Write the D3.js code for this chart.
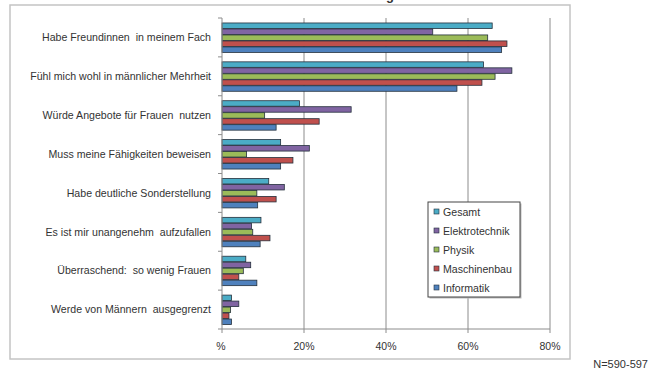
<!DOCTYPE html>
<html>
<head>
<meta charset="utf-8">
<script src="https://cdn.jsdelivr.net/npm/d3@7"></script>
<style>
  body { margin: 0; background: #fff; }
  svg { display: block; font-family: Arial, "Liberation Sans", sans-serif; }
</style>
</head>
<body>
<div id="chart"></div>
<script>
// categories, top to bottom
var categories = [
    'Habe Freundinnen  in meinem Fach',
    'Fühl mich wohl in männlicher Mehrheit',
    'Würde Angebote für Frauen  nutzen',
    'Muss meine Fähigkeiten beweisen',
    'Habe deutliche Sonderstellung',
    'Es ist mir unangenehm  aufzufallen',
    'Überraschend:  so wenig Frauen',
    'Werde von Männern  ausgegrenzt'
];
var seriesNames = ['Gesamt', 'Elektrotechnik', 'Physik', 'Maschinenbau', 'Informatik'];
var seriesColors = ['#4bacc6', '#8064a2', '#9bbb59', '#c0504d', '#4f81bd'];

// percent values per series, same order as categories
var gesamt         = [65.9, 63.8, 18.9, 14.3, 11.4, 9.5, 5.8, 2.3];
var elektrotechnik = [51.4, 70.7, 31.5, 21.3, 15.2, 7.2, 7.0, 4.1];
var physik         = [64.8, 66.6, 10.4, 6.0, 8.5, 7.5, 5.2, 2.1];
var maschinenbau   = [69.5, 63.4, 23.7, 17.3, 13.2, 11.7, 4.1, 1.7];
var informatik     = [68.2, 57.3, 13.2, 14.3, 8.7, 9.3, 8.5, 2.3];
var xTicks = [0, 20, 40, 60, 80];
var xTickLabels = ['%', '20%', '40%', '60%', '80%'];

var values = [gesamt, elektrotechnik, physik, maschinenbau, informatik];

var width = 650, height = 374;
var plot = {left: 222, right: 550, top: 18, bottom: 329};

var svg = d3.select('#chart').append('svg')
    .attr('width', width)
    .attr('height', height);

// chart frame
svg.append('rect')
    .attr('x', 10).attr('y', 5)
    .attr('width', 560).attr('height', 354)
    .attr('fill', '#fff')
    .attr('stroke', '#c4c4c4')
    .attr('stroke-width', 1.5);

// title, cut off at the top edge like in the source image
svg.append('text')
    .attr('x', 394).attr('y', 0)
    .attr('text-anchor', 'end')
    .style('font-size', '13px')
    .style('font-weight', 'bold')
    .attr('fill', '#333')
    .text('Erfahrung');

var x = d3.scaleLinear().domain([0, 80]).range([plot.left, plot.right]);
var y = d3.scaleBand().domain(categories).range([plot.top, plot.bottom])
    .paddingInner(0.23).paddingOuter(0.115);
var ySub = d3.scaleBand().domain(seriesNames).range([0, y.bandwidth()]);

// gridlines
svg.append('g')
    .selectAll('line')
    .data(xTicks.slice(1))
    .enter()
        .append('line')
        .attr('x1', function(d){ return x(d); })
        .attr('x2', function(d){ return x(d); })
        .attr('y1', plot.top)
        .attr('y2', plot.bottom)
        .attr('stroke', '#8c8c8c')
        .attr('stroke-width', 1);

// bars
var groups = svg.append('g')
    .selectAll('g')
    .data(categories)
    .enter()
        .append('g')
        .attr('transform', function(d){ return 'translate(0,' + y(d) + ')'; });

groups.selectAll('rect')
    .data(function(d, i){
        return seriesNames.map(function(s, j){ return {s: s, v: values[j][i], c: seriesColors[j]}; });
    })
    .enter()
        .append('rect')
        .attr('x', x(0))
        .attr('y', function(d){ return ySub(d.s) + 0.5; })
        .attr('width', function(d){ return x(d.v) - x(0); })
        .attr('height', ySub.bandwidth() - 0.5)
        .attr('fill', function(d){ return d.c; })
        .attr('stroke', '#24303c')
        .attr('stroke-width', 0.8);

// y axis line and ticks
svg.append('line')
    .attr('x1', plot.left).attr('x2', plot.left)
    .attr('y1', plot.top).attr('y2', plot.bottom)
    .attr('stroke', '#8c8c8c');
var yBounds = categories.map(function(d){ return y(d) - y.step() * y.paddingInner() / 2; });
yBounds.push(plot.bottom);
svg.append('g')
    .selectAll('line')
    .data(yBounds)
    .enter()
        .append('line')
        .attr('x1', plot.left - 4).attr('x2', plot.left)
        .attr('y1', function(d){ return d; })
        .attr('y2', function(d){ return d; })
        .attr('stroke', '#8c8c8c');

// x axis line and ticks
svg.append('line')
    .attr('x1', plot.left).attr('x2', plot.right)
    .attr('y1', plot.bottom).attr('y2', plot.bottom)
    .attr('stroke', '#8c8c8c');
svg.append('g')
    .selectAll('line')
    .data(xTicks)
    .enter()
        .append('line')
        .attr('x1', function(d){ return x(d); })
        .attr('x2', function(d){ return x(d); })
        .attr('y1', plot.bottom).attr('y2', plot.bottom + 4)
        .attr('stroke', '#8c8c8c');

// category labels
svg.append('g')
    .selectAll('text')
    .data(categories)
    .enter()
        .append('text')
        .attr('x', 211)
        .attr('y', function(d){ return y(d) + y.bandwidth() / 2; })
        .attr('dy', '0.35em')
        .attr('text-anchor', 'end')
        .attr('fill', '#333')
        .style('font-size', '10.6px')
        .style('white-space', 'pre')
        .text(function(d){ return d; });

// x tick labels
svg.append('g')
    .selectAll('text')
    .data(xTicks)
    .enter()
        .append('text')
        .attr('x', function(d, i){ return i == 0 ? x(d) - 1 : x(d); })
        .attr('y', 350)
        .attr('text-anchor', 'middle')
        .attr('fill', '#333')
        .style('font-size', '10.5px')
        .text(function(d, i){ return xTickLabels[i]; });

// legend
var legend = svg.append('g').attr('transform', 'translate(428,202)');
legend.append('rect')
    .attr('x', 1.5).attr('y', 1.5)
    .attr('width', 92).attr('height', 95)
    .attr('fill', '#bbb');
legend.append('rect')
    .attr('width', 92).attr('height', 95)
    .attr('fill', '#fff')
    .attr('stroke', '#444')
    .attr('stroke-width', 1);
var items = legend.selectAll('g')
    .data(seriesNames)
    .enter()
        .append('g')
        .attr('transform', function(d, i){ return 'translate(0,' + (10 + i * 19) + ')'; });
items.append('rect')
    .attr('x', 6).attr('y', -3)
    .attr('width', 5).attr('height', 5)
    .attr('fill', function(d, i){ return seriesColors[i]; })
    .attr('stroke', '#24303c')
    .attr('stroke-width', 0.6);
items.append('text')
    .attr('x', 15).attr('y', 0)
    .attr('dy', '0.35em')
    .attr('fill', '#333')
    .style('font-size', '10.6px')
    .text(function(d){ return d; });

// sample size note
svg.append('text')
    .attr('x', 648).attr('y', 368)
    .attr('text-anchor', 'end')
    .attr('fill', '#333')
    .style('font-size', '11px')
    .text('N=590-597');
</script>
</body>
</html>
